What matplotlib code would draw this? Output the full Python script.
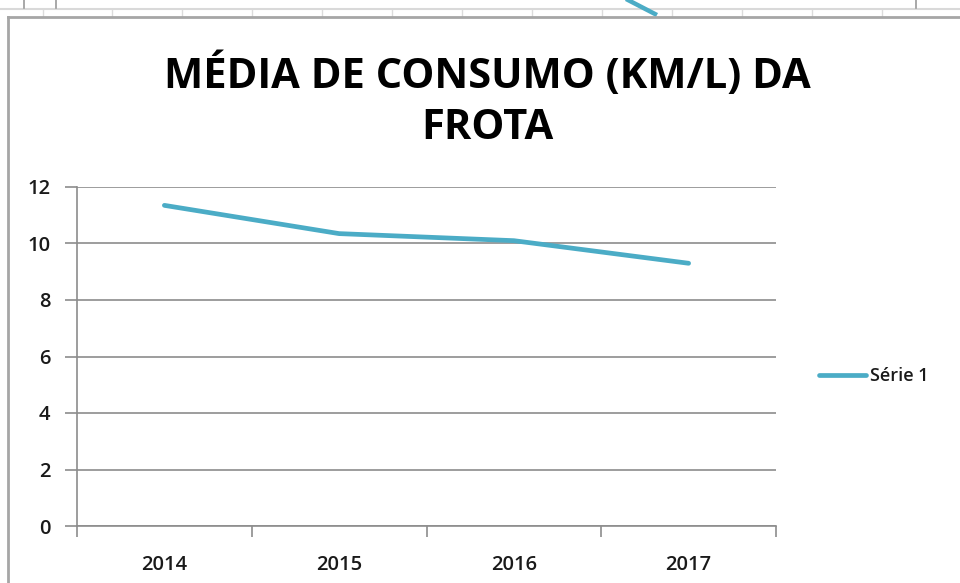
import matplotlib.pyplot as plt
from matplotlib.lines import Line2D

anos = ["2014", "2015", "2016", "2017"]
consumo = [11.35, 10.35, 10.1, 9.3]
y_ticks = [0, 2, 4, 6, 8, 10, 12]
titulo = "MÉDIA DE CONSUMO (KM/L) DA\nFROTA"
serie = "Série 1"

cor_linha = "#4BACC6"
cinza = "#8C8C8C"

plt.rcParams["font.family"] = ["Open Sans", "DejaVu Sans"]

fig = plt.figure(figsize=(9.6, 5.83), dpi=100)
W, H = 960, 583


def fx(px):
    return px / W


def fy(py):
    return 1 - py / H


# screenshot frame bits (spreadsheet behind the chart)
fig.add_artist(Line2D([0, 1], [fy(9), fy(9)], color="#D9D9D9", lw=1.5))
for x in [24, 56, 916]:
    fig.add_artist(Line2D([fx(x), fx(x)], [fy(0), fy(8)], color="#9A9A9A", lw=1.2))
for x in [43, 112, 182, 252, 322, 392, 462, 532, 602, 672, 742, 812, 882]:
    fig.add_artist(Line2D([fx(x), fx(x)], [fy(10), fy(16)], color="#DCDCDC", lw=1))
fig.add_artist(Line2D([fx(628), fx(655)], [fy(0), fy(14)], color=cor_linha, lw=3.2))
fig.add_artist(Line2D([fx(8), 1], [fy(17), fy(17)], color="#A6A6A6", lw=2))
fig.add_artist(Line2D([fx(8), fx(8)], [0, fy(17)], color="#A6A6A6", lw=2))

ax = fig.add_axes([fx(77), fy(526), fx(776) - fx(77), (526 - 187) / H])
x = list(range(len(anos)))
ax.plot(x, consumo, color=cor_linha, lw=3.4, solid_capstyle="round", label=serie)

ax.set_xlim(-0.5, len(anos) - 0.5)
ax.set_ylim(0, 12)
ax.set_yticks(y_ticks)
ax.yaxis.grid(True, color=cinza, lw=1.2)
ax.set_axisbelow(True)

ax.set_xticks([i - 0.5 for i in range(len(anos) + 1)])
ax.set_xticklabels([])
ax.set_xticks(x, minor=True)
ax.set_xticklabels(anos, minor=True)
ax.tick_params(axis="x", which="major", direction="out", length=8, color=cinza, width=1.2)
ax.tick_params(axis="x", which="minor", length=0, pad=21, labelsize=14.5)
ax.tick_params(axis="y", direction="out", length=9, color=cinza, width=1.2,
               labelsize=14.5, pad=10)
for lab in ax.get_xticklabels(minor=True) + ax.get_yticklabels():
    lab.set_fontweight("semibold")
    lab.set_color("#1A1A1A")

for s in ["top", "right"]:
    ax.spines[s].set_visible(False)
for s in ["left", "bottom"]:
    ax.spines[s].set_color(cinza)
    ax.spines[s].set_linewidth(1.2)

fig.text(fx(487), fy(101), titulo, ha="center", va="center", fontsize=30,
         fontweight="bold", linespacing=1.33)

leg = ax.legend(loc="center left", bbox_to_anchor=(fx(812), fy(376)),
                bbox_transform=fig.transFigure, frameon=False,
                handlelength=2.6, handletextpad=0.2, borderaxespad=0,
                prop={"weight": "semibold", "size": 13})
for t in leg.get_texts():
    t.set_color("#1A1A1A")

fig.savefig("out.png", dpi=100)
